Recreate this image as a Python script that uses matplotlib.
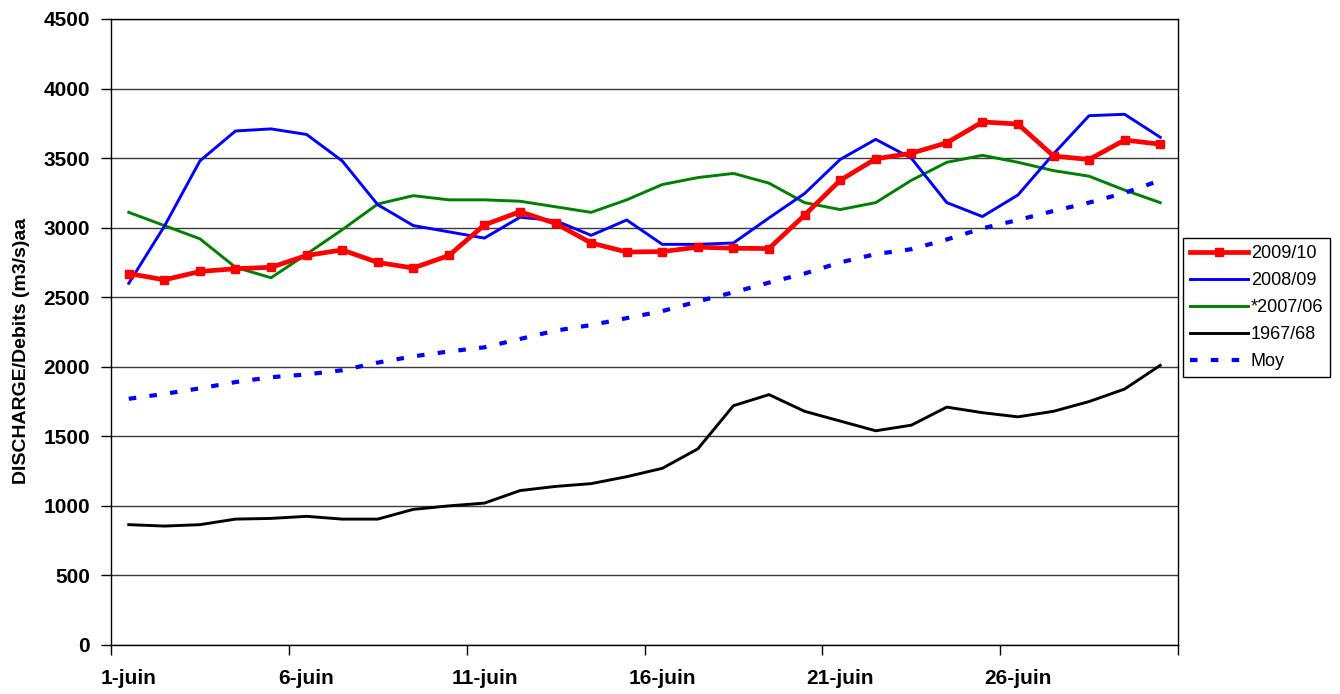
import matplotlib
matplotlib.use("Agg")
import matplotlib.pyplot as plt
import numpy as np

plt.rcParams['font.family'] = ['Liberation Sans', 'DejaVu Sans']

days = list(range(1, 31))
tick_days = [1, 6, 11, 16, 21, 26]
tick_labels = ["1-juin", "6-juin", "11-juin", "16-juin", "21-juin", "26-juin"]

s2009_10 = [2670, 2625, 2685, 2705, 2715, 2800, 2840, 2750, 2710, 2800,
            3020, 3115, 3030, 2890, 2825, 2828, 2860, 2852, 2850, 3090,
            3340, 3495, 3535, 3610, 3760, 3745, 3515, 3490, 3630, 3600]
s2008_09 = [2600, 3010, 3480, 3695, 3710, 3670, 3480, 3165, 3015, 2970,
            2925, 3075, 3050, 2945, 3055, 2880, 2880, 2890, 3070, 3245,
            3490, 3635, 3500, 3180, 3080, 3235, 3530, 3805, 3815, 3650]
s2007_06 = [3110, 3015, 2920, 2715, 2640, 2810, 2985, 3170, 3230, 3200,
            3200, 3190, 3150, 3110, 3200, 3310, 3360, 3390, 3320, 3180,
            3130, 3180, 3340, 3470, 3520, 3470, 3410, 3370, 3270, 3180]
s1967_68 = [865, 855, 865, 905, 910, 925, 905, 905, 975, 1000,
            1020, 1110, 1140, 1160, 1210, 1270, 1410, 1720, 1800, 1680,
            1610, 1540, 1580, 1710, 1670, 1640, 1680, 1750, 1840, 2010]
moy = [1770, 1805, 1845, 1890, 1925, 1945, 1975, 2030, 2075, 2110,
       2140, 2200, 2260, 2300, 2350, 2400, 2470, 2535, 2605, 2670,
       2750, 2810, 2845, 2915, 2995, 3055, 3120, 3180, 3250, 3340]

fig = plt.figure(figsize=(13.4, 6.94), dpi=100)
ax = fig.add_axes([111/1340, 1 - 645/694, (1178-111)/1340, (645-19)/694])

ax.plot(days, s2009_10, color='#ff0000', lw=3.4, marker='s', markersize=5.5,
        label='2009/10', zorder=5)
ax.plot(days, s2008_09, color='#0000ff', lw=2.1, label='2008/09', zorder=4)
ax.plot(days, s2007_06, color='#008000', lw=2.1, label='*2007/06', zorder=3)
ax.plot(days, s1967_68, color='#000000', lw=2.1, label='1967/68', zorder=3)
ax.plot(days, moy, color='#0000ff', lw=3.0, ls=(0, (1.8, 3.2)), label='Moy', zorder=3)

ax.set_xlim(0.5, 30.5)
ax.set_ylim(0, 4500)
ax.set_yticks(np.arange(0, 4501, 500))
ax.yaxis.grid(True, color='#3a3a3a', lw=1.0)
ax.set_axisbelow(True)

ax.set_xticks(tick_days)
ax.set_xticklabels(tick_labels, fontsize=15, fontweight='bold')
ax.set_xticks(np.arange(0.5, 31, 5), minor=True)
ax.tick_params(axis='x', which='major', length=0, pad=17)
ax.tick_params(axis='x', which='minor', length=7, width=1, direction='out')
ax.tick_params(axis='y', length=7, width=1, direction='out', labelsize=15, pad=8)
for lab in ax.get_yticklabels():
    lab.set_fontweight('bold')

for sp in ax.spines.values():
    sp.set_color('black')
    sp.set_linewidth(1.0)

ax.set_ylabel('DISCHARGE/Debits (m3/s)aa', fontsize=14, fontweight='bold')
ax.yaxis.set_label_coords(-0.076, 0.47)

leg = fig.legend(loc='upper left', bbox_to_anchor=(1183/1340, 1 - 238/694),
                 fontsize=13, frameon=True, fancybox=False, framealpha=1,
                 edgecolor='black', handlelength=3.2, handletextpad=0.15,
                 labelspacing=0.55, borderpad=0.4, borderaxespad=0)
leg.get_frame().set_linewidth(1.0)

fig.savefig('out.png', dpi=100)
